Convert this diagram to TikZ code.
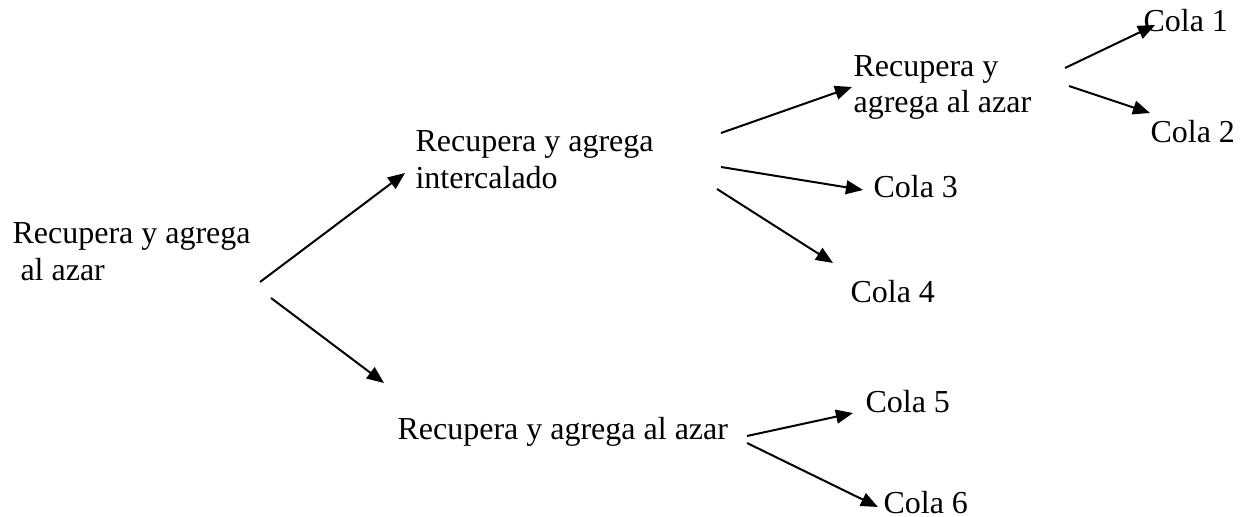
\documentclass[tikz,border=0pt]{standalone}
\usepackage{fontspec}
\setmainfont{Liberation Serif}
\usetikzlibrary{arrows.meta}

\begin{document}
\begin{tikzpicture}[x=0.375pt, y=-0.375pt, font=\fontsize{12}{13.8}\selectfont,
	txt/.style={anchor=base west, inner sep=0pt, align=left},
	arr/.style={line width=0.75pt, -{Triangle[length=6.4pt,width=5.2pt]}}]
	\useasboundingbox (0,0) rectangle (1245,517);
	% texts (base of a two-line node is its last line)
	\node[txt] (root) at (12,280) {Recupera y agrega\\\ al azar};
	\node[txt] (inter) at (415,188) {Recupera y agrega\\intercalado};
	\node[txt] (azarup) at (853,113) {Recupera y\\agrega al azar};
	\node[txt] (azarlow) at (397,439) {Recupera y agrega al azar};
	\node[txt] (cola1) at (1143,32) {Cola 1};
	\node[txt] (cola2) at (1150,143) {Cola 2};
	\node[txt] (cola3) at (873,197) {Cola 3};
	\node[txt] (cola4) at (850,302) {Cola 4};
	\node[txt] (cola5) at (865,412) {Cola 5};
	\node[txt] (cola6) at (883,513) {Cola 6};
	% arrow ends
	\coordinate (root-up) at (260,282);
	\coordinate (root-down) at (271,298);
	\coordinate (inter-in) at (405,173);
	\coordinate (azarlow-in) at (384,383);
	\coordinate (inter-a) at (721,133);
	\coordinate (inter-b) at (721,167);
	\coordinate (inter-c) at (717,189);
	\coordinate (azarup-in) at (852,87);
	\coordinate (cola3-in) at (863,190);
	\coordinate (cola4-in) at (833,263);
	\coordinate (azarup-a) at (1065,68);
	\coordinate (azarup-b) at (1069,86);
	\coordinate (cola1-in) at (1155,25);
	\coordinate (cola2-in) at (1150,113);
	\coordinate (azarlow-a) at (747,436);
	\coordinate (azarlow-b) at (747,443);
	\coordinate (cola5-in) at (853,413);
	\coordinate (cola6-in) at (878,507);
	% arrows
	\draw[arr] (root-up) -- (inter-in);
	\draw[arr] (root-down) -- (azarlow-in);
	\draw[arr] (inter-a) -- (azarup-in);
	\draw[arr] (inter-b) -- (cola3-in);
	\draw[arr] (inter-c) -- (cola4-in);
	\draw[arr] (azarup-a) -- (cola1-in);
	\draw[arr] (azarup-b) -- (cola2-in);
	\draw[arr] (azarlow-a) -- (cola5-in);
	\draw[arr] (azarlow-b) -- (cola6-in);
\end{tikzpicture}
\end{document}
